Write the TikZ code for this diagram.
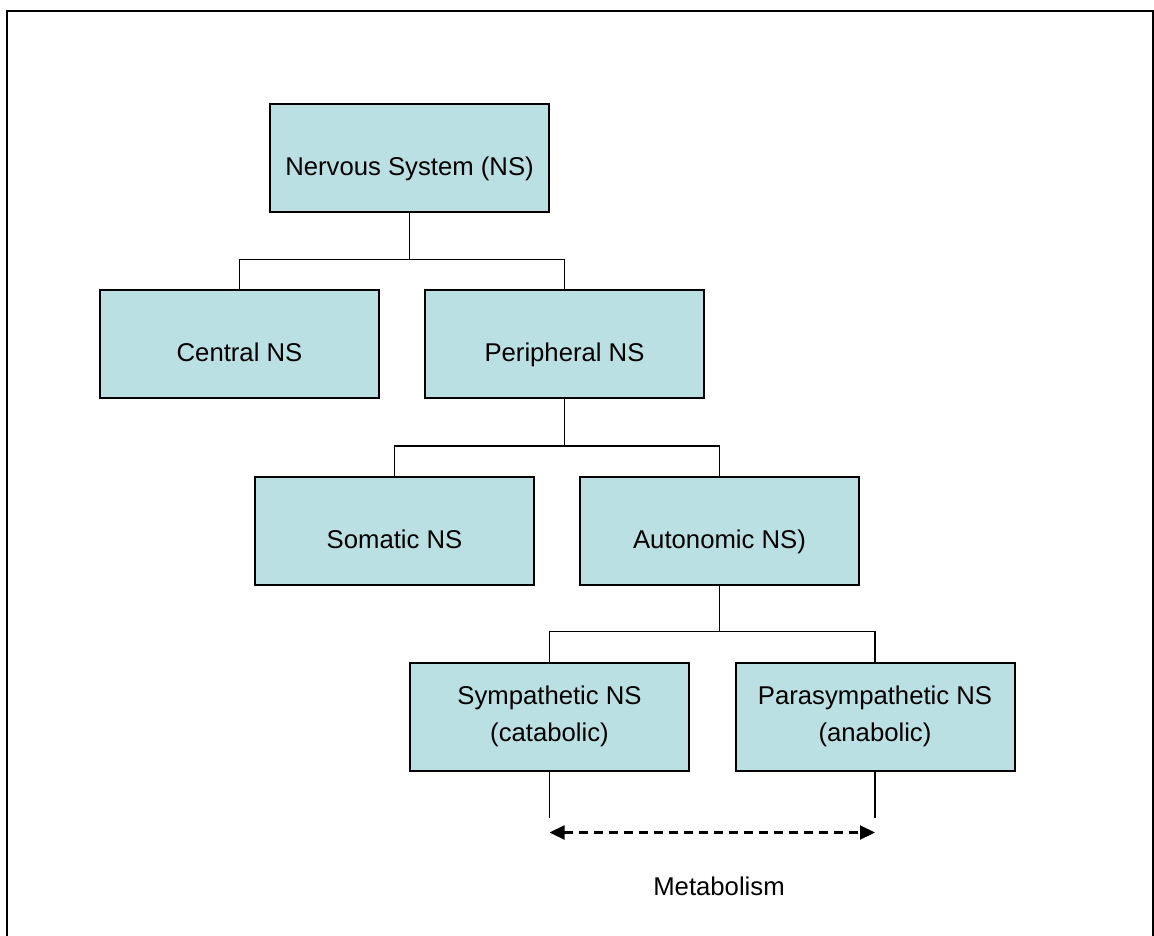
\documentclass[tikz,border=0pt]{standalone}
\usepackage{fontspec}
\setmainfont{Liberation Sans}
\usetikzlibrary{arrows.meta,calc}
\definecolor{boxfill}{RGB}{187,224,227}
\tikzset{
  unitbox/.style={draw=black, line width=2pt, fill=boxfill, rectangle,
    minimum width=279pt, minimum height=108pt, inner sep=0pt,
    font=\fontsize{25.7}{36.5}\selectfont, align=center},
  oneline/.style={text height=35pt, text depth=0pt},
  link/.style={draw=black, line width=1.9pt},
  metaarrow/.style={line width=2.2pt, dash pattern=on 9pt off 6pt,
    {Triangle[length=15pt,width=14pt]}-{Triangle[length=15pt,width=14pt]}},
  caption/.style={font=\fontsize{25.7}{30}\selectfont, inner sep=0pt}
}
\begin{document}
\begin{tikzpicture}[x=1pt,y=-1pt]
\useasboundingbox (0,0) rectangle (1154,936);
\fill[white] (0,0) rectangle (1154,936);
% open frame around the chart
\draw[line width=2pt] (7,937) -- (7,11) -- (1153,11) -- (1153,937);

% hierarchy boxes
\node[unitbox, oneline] (ns)   at (409.5,158.5) {Nervous System (NS)};
\node[unitbox, oneline] (cns)  at (239.5,344)   {Central NS};
\node[unitbox, oneline] (pns)  at (564.5,344)   {Peripheral NS};
\node[unitbox, oneline] (sns)  at (394.5,530.5) {Somatic NS};
\node[unitbox, oneline] (ans)  at (719.5,530.5) {Autonomic NS)};
\node[unitbox] (sym)  at (549.5,716.5) {Sympathetic NS\\(catabolic)};
\node[unitbox] (para) at (875,716.5)   {Parasympathetic NS\\(anabolic)};

% tree connectors
\draw[link] (ns.south) -- ++(0,46) -| (cns.north);
\draw[link] (ns.south) -- ++(0,46) -| (pns.north);
\draw[link] (pns.south) -- ++(0,47) -| (sns.north);
\draw[link] (pns.south) -- ++(0,47) -| (ans.north);
\draw[link] (ans.south) -- ++(0,46) -| (sym.north);
\draw[link] (ans.south) -- ++(0,46) -| (para.north);

% metabolism span between the two divisions
\coordinate (symleg)  at ($(sym.south)+(0,46)$);
\coordinate (paraleg) at ($(para.south)+(0,46)$);
\coordinate (symtip)  at ($(sym.south)+(0,61)$);
\coordinate (paratip) at ($(para.south)+(0,61)$);
\draw[link] (sym.south) -- (symleg);
\draw[link] (para.south) -- (paraleg);
\draw[metaarrow] (symtip) -- (paratip);
\node[caption, anchor=base] (meta) at (719,895) {Metabolism};
\end{tikzpicture}
\end{document}
